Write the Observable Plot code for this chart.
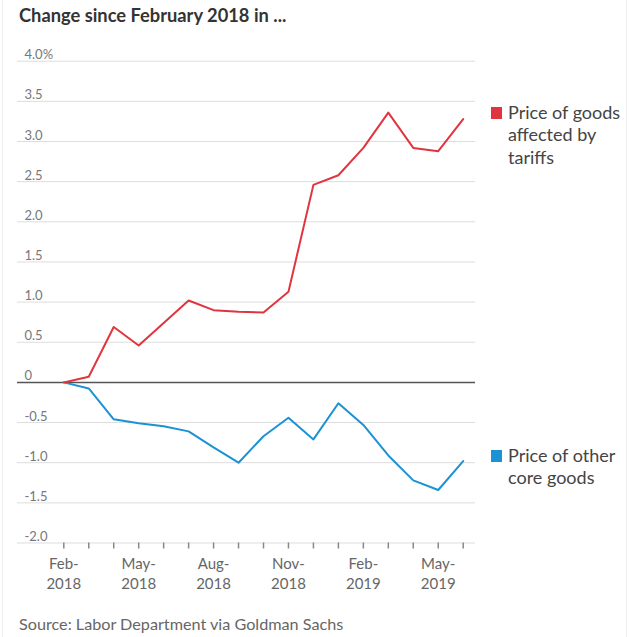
<!DOCTYPE html>
<html>
<head>
<meta charset="utf-8">
<script src="https://cdn.jsdelivr.net/npm/d3@7"></script>
<script src="https://cdn.jsdelivr.net/npm/@observablehq/plot@0.6"></script>
<style>
  body { margin: 0; background: #fff; font-family: Lato, "Noto Sans", sans-serif; }
  #wrap { position: relative; width: 631px; height: 637px; overflow: hidden; background: #fff; }
  #chart { position: absolute; left: 0; top: 0; }
  .abs { position: absolute; white-space: nowrap; }
  #title { left: 19px; top: 4px; font-size: 18.3px; line-height: 22px; font-weight: 700; color: #333; }
  #source { left: 19px; top: 614px; font-size: 16.2px; line-height: 19px; color: #666; }
  .leg { font-size: 18px; color: #444; line-height: 22.5px; }
  .sw { position: absolute; width: 11px; height: 12px; }
  .edge { position: absolute; top: 0; width: 1px; height: 637px; background: #eee; }
</style>
</head>
<body>
<div id="wrap">
  <div id="chart"></div>
  <div class="edge" style="left:2px"></div>
  <div class="edge" style="left:626px"></div>
  <div id="title" class="abs"></div>
  <div id="source" class="abs"></div>
  <div id="leg1sw" class="sw" style="left:491px; top:107px"></div>
  <div id="leg1" class="abs leg" style="left:508px; top:100.5px"></div>
  <div id="leg2sw" class="sw" style="left:491px; top:450px"></div>
  <div id="leg2" class="abs leg" style="left:508px; top:443.5px"></div>
</div>
<script>
const titleText = "Change since February 2018 in ...";
const sourceText = "Source: Labor Department via Goldman Sachs";
const seriesNames = ["Price of goods\naffected by\ntariffs", "Price of other\ncore goods"];
const seriesColors = ["#e0353f", "#1a92d4"];

const months = ["Feb-2018","Mar-2018","Apr-2018","May-2018","Jun-2018","Jul-2018","Aug-2018","Sep-2018",
                "Oct-2018","Nov-2018","Dec-2018","Jan-2019","Feb-2019","Mar-2019","Apr-2019","May-2019","Jun-2019"];
const labeledMonths = ["Feb-2018","May-2018","Aug-2018","Nov-2018","Feb-2019","May-2019"];

const tariffGoods = [0.0, 0.07, 0.69, 0.46, 0.74, 1.02, 0.90, 0.88, 0.87, 1.13, 2.46, 2.58, 2.92, 3.36, 2.92, 2.88, 3.28];
const otherCore   = [0.0, -0.075, -0.46, -0.51, -0.545, -0.61, -0.81, -1.0, -0.67, -0.44, -0.71, -0.26, -0.53, -0.91, -1.22, -1.34, -0.98];

const yTicks = [4, 3.5, 3, 2.5, 2, 1.5, 1, 0.5, 0, -0.5, -1, -1.5, -2];
const yTickLabels = ["4.0%", "3.5", "3.0", "2.5", "2.0", "1.5", "1.0", "0.5", "0", "-0.5", "-1.0", "-1.5", "-2.0"];

document.getElementById("title").textContent = titleText;
document.getElementById("source").textContent = sourceText;
document.getElementById("leg1").innerHTML = seriesNames[0].split("\n").join("<br>");
document.getElementById("leg2").innerHTML = seriesNames[1].split("\n").join("<br>");
document.getElementById("leg1sw").style.background = seriesColors[0];
document.getElementById("leg2sw").style.background = seriesColors[1];

const idx = months.map((m, i) => i);
const labeledIdx = labeledMonths.map(m => months.indexOf(m));

const chart = Plot.plot({
  width: 631,
  height: 637,
  marginTop: 60.7,
  marginBottom: 94.5,
  marginLeft: 17,
  marginRight: 156,
  style: { fontFamily: "Lato, 'Noto Sans', sans-serif", background: "transparent", overflow: "visible" },
  x: { type: "linear", domain: [0, months.length - 1], range: [63.3, 462.7], axis: null },
  y: { domain: [-2, 4], axis: null },
  marks: [
    Plot.ruleY(yTicks.filter(d => d !== 0), { stroke: "#dddddd", strokeWidth: 1 }),
    Plot.ruleY([0], { stroke: "#555555", strokeWidth: 1.5 }),
    Plot.text(yTicks, {
      y: d => d, text: (d, i) => yTickLabels[i], frameAnchor: "left", dx: 7, dy: -2,
      textAnchor: "start", lineAnchor: "bottom", fill: "#777", fontSize: 13
    }),
    Plot.axisX({ ticks: idx, tickSize: 6, tickFormat: () => "", stroke: "#888", strokeWidth: 1.5 }),
    Plot.axisX({
      ticks: labeledIdx, tickSize: 0, tickPadding: 12.5, fill: "#666", fontSize: 15, lineHeight: 1.3,
      tickFormat: i => months[i].replace("-", "-\n")
    }),
    Plot.line(otherCore, { x: (d, i) => i, y: d => d, stroke: seriesColors[1], strokeWidth: 2 }),
    Plot.line(tariffGoods, { x: (d, i) => i, y: d => d, stroke: seriesColors[0], strokeWidth: 2 })
  ]
});
document.getElementById("chart").appendChild(chart);
</script>
</body>
</html>
